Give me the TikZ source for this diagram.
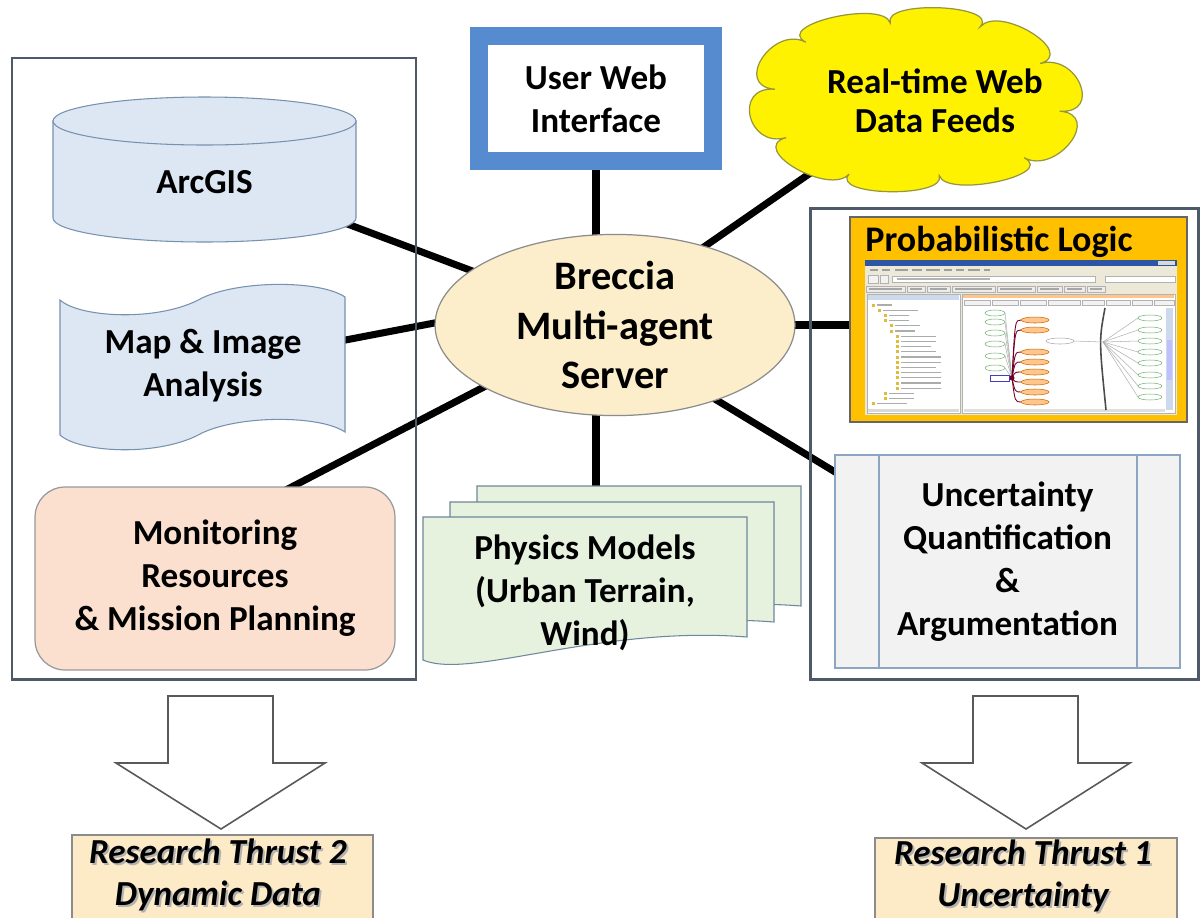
\documentclass[tikz,border=0pt]{standalone}
\usepackage{fontspec}
\setmainfont{Carlito}
\usetikzlibrary{shapes.geometric,calc}
\definecolor{framecol}{RGB}{78,90,104}
\definecolor{bluefill}{RGB}{220,231,243}
\definecolor{blueline}{RGB}{120,145,175}
\definecolor{peach}{RGB}{251,224,207}
\definecolor{greenfill}{RGB}{230,241,222}
\definecolor{greenline}{RGB}{110,135,155}
\definecolor{cream}{RGB}{252,238,202}
\definecolor{cloudline}{RGB}{150,150,60}
\definecolor{uwiblue}{RGB}{86,140,207}
\definecolor{probor}{RGB}{255,192,0}
\definecolor{uqfill}{RGB}{242,242,242}
\definecolor{uqline}{RGB}{140,165,195}
\definecolor{thrustfill}{RGB}{253,234,198}
\definecolor{winbg}{RGB}{236,233,216}
\definecolor{titleblue}{RGB}{45,85,165}
\definecolor{treeyel}{RGB}{220,190,60}
\definecolor{sbcol}{RGB}{205,218,238}
\begin{document}
\begin{tikzpicture}[x=0.02cm,y=-0.02cm,
  txt/.style={font=\fontsize{20}{24.4}\selectfont\bfseries, align=center, inner sep=0pt},
  thrusttxt/.style={font=\fontsize{20}{24}\selectfont\bfseries\itshape, align=center, inner sep=0pt},
  conn/.style={line width=4pt, black},
  frame/.style={draw=framecol, line width=1.7pt},
  bluebox/.style={fill=bluefill, draw=blueline, line width=0.6pt},
  docsty/.style={fill=greenfill, draw=greenline, line width=0.6pt},
  cloudsty/.style={fill=yellow, draw=cloudline, line width=0.7pt},
  bigarrow/.style={fill=white, draw=black!65, line width=0.9pt, line join=miter},
  thrustbox/.style={fill=thrustfill, draw=black!45, line width=0.7pt}]
\useasboundingbox (0,0) rectangle (1200,917);
\clip (0,0) rectangle (1200,917);
\fill[white] (0,0) rectangle (1200,917);

% ---------- connectors (behind everything) ----------
\coordinate (c1a) at (340,221.2); \coordinate (c1b) at (500,281.4);
\coordinate (c2a) at (335,342);   \coordinate (c2b) at (450,320);
\coordinate (c3a) at (282,492);   \coordinate (c3b) at (505,376);
\coordinate (c4a) at (596,160);   \coordinate (c4b) at (596,255);
\coordinate (c5a) at (832,158);   \coordinate (c5b) at (688,258);
\coordinate (c6a) at (785,325);   \coordinate (c6b) at (860,325);
\coordinate (c7a) at (700,390);   \coordinate (c7b) at (845,478);
\coordinate (c8a) at (596,400);   \coordinate (c8b) at (596,495);
\foreach \n in {1,...,8} \draw[conn] (c\n a) -- (c\n b);

% ---------- group frames ----------
\draw[frame] (12,58) rectangle (416,679);
\draw[frame] (810,208) rectangle (1198,679);

% ---------- ArcGIS cylinder ----------
\path[bluebox] (53,121) -- (53,218)
  .. controls (53,231.25) and (120.8,242) .. (204.5,242)
  .. controls (288.2,242) and (356,231.25) .. (356,218) -- (356,121) -- cycle;
\draw[bluebox] (204.5,121) ellipse [x radius=151.5, y radius=24];
\node[txt] (arcgis) at (204.5,182) {ArcGIS};

% ---------- Map & Image (punched tape) ----------
\path[bluebox] (60,300) .. controls (80,318) and (160,322) .. (202,298)
  .. controls (240,280) and (320,280) .. (345,297) -- (345,432)
  .. controls (320,415) and (240,415) .. (202,433)
  .. controls (160,457) and (80,453) .. (60,435) -- cycle;
\node[txt] (map) at (203,366) {Map \& Image\\Analysis};

% ---------- Monitoring ----------
\node[draw=black!40, fill=peach, line width=0.7pt, rounded corners=0.6cm,
      minimum width=7.2cm, minimum height=3.66cm, txt] (monitor) at (215,578.5)
      {Monitoring\\Resources\\\& Mission Planning};

% ---------- User Web Interface ----------
\node[draw=uwiblue, line width=10.2pt, fill=white, minimum width=4.68cm,
      minimum height=2.5cm, txt] (uwi) at (596,98.5) {User Web\\Interface};

% ---------- Cloud ----------
\coordinate (cc) at (915,100);
\foreach \i/\f in {0/1.0,1/1.04,2/0.96,3/1.03,4/1.0,5/0.97,6/1.04,7/0.98,8/1.02,9/0.97,10/1.0}
  \coordinate (cp\i) at ({915+146*\f*cos(\i*36+8)},{100+80*\f*sin(\i*36+8)});
\path[cloudsty] (cp0) \foreach \i [remember=\i as \j (initially 0)] in {1,...,10}
  { .. controls ($(cc)!1.3!(cp\j)$) and ($(cc)!1.3!(cp\i)$) .. (cp\i) } -- cycle;
\node[font=\fontsize{20}{22.5}\selectfont\bfseries, align=center, inner sep=0pt]
      (cloud) at (935,101) {Real-time Web\\Data Feeds};

% ---------- Server ----------
\node[ellipse, draw=black!45, fill=cream, line width=0.7pt, minimum width=7.2cm,
      minimum height=3.3cm, inner sep=0pt, align=center,
      font=\fontsize{23}{28.3}\selectfont\bfseries] (srv) at (615,325)
      {Breccia\\Multi-agent\\Server};

% ---------- Physics models (multi-document) ----------
\foreach \dx/\dy in {54/-31,27/-15,0/0}{
  \path[docsty, shift={(\dx,\dy)}] (423,517) -- (747,517) -- (747,637)
    .. controls (600,625) and (470,680) .. (423,660) -- cycle;
}
\node[txt] (physics) at (585,593) {Physics Models\\(Urban Terrain,\\Wind)};

% ---------- Probabilistic Logic panel ----------
\draw[fill=probor, draw=black!60, line width=0.6pt] (850,217) rectangle (1187,422);
\node[anchor=base west, font=\fontsize{20.5}{24}\selectfont\bfseries, inner sep=0pt]
      (prob) at (865,251) {Probabilistic Logic};
% screenshot
\fill[winbg] (865,260) rectangle (1177,415);
\fill[titleblue] (865,260) rectangle (1177,266);
\fill[white!70!gray] (1158,261) rectangle (1175,265);
\foreach \a/\b in {870/878,882/890,895/908,912/922,926/940,944/952,956/964,968/980,984/990}
  \fill[gray!75] (\a,268.5) rectangle (\b,270.5);
\draw[gray!60, fill=gray!10, line width=0.3pt] (868,275) rectangle (878,283);
\draw[gray!60, fill=gray!10, line width=0.3pt] (880,275) rectangle (888,283);
\draw[gray!60, fill=white, line width=0.3pt] (892,276) rectangle (1095,282);
\fill[gray!60] (897,278.3) rectangle (990,279.7);
\draw[gray!60, fill=white, line width=0.3pt] (1105,276) rectangle (1175,282);
\foreach \a/\b in {866/905,907/925,927/950,952/995,997/1035,1037/1062,1064/1085,1087/1105}{
  \draw[gray!60, fill=gray!15, line width=0.3pt] (\a,286) rectangle (\b,292);
  \fill[gray!70] (\a+3,288.4) rectangle (\b-3,289.6);
}
\draw[gray!60, fill=white, line width=0.3pt] (867,294) rectangle (960,413);
\fill[sbcol] (868,295) rectangle (959,300);
\foreach \k/\ind/\len in {0/872/15,1/878/35,2/884/20,3/884/20,4/890/25,5/890/20,6/896/35,
   7/896/35,8/896/30,9/896/35,10/896/40,11/896/40,12/896/35,13/896/40,14/896/40,
   15/896/40,16/896/40,17/884/25,18/884/25,19/872/30}{
  \fill[treeyel] (\ind,305+\k*5.2-1.5) rectangle +(3,3);
  \fill[gray!65] (\ind+5,305+\k*5.2-0.6) rectangle +(\len,1.2);
}
\fill[gray!30] (868,409) rectangle (959,412);
\draw[gray!60, fill=white, line width=0.3pt] (962,294) rectangle (1175,413);
\fill[orange!45] (963,295) rectangle (1174,298);
\foreach \a/\b in {964/990,992/1018,1020/1046,1048/1080,1082/1104,1106/1130,1132/1152,1154/1174}
  \draw[gray!60, fill=gray!10, line width=0.3pt] (\a,300) rectangle (\b,305);
\fill[sbcol] (1166,308) rectangle (1173,410);
\fill[blue!25] (1167,340) rectangle (1172,380);
\fill[gray!25] (964,409) rectangle (1165,412);
\draw[black!70, line width=0.9pt] (1105,308) .. controls (1099,340) .. (1106,410);
\foreach \y in {318,330,341,352,363,375,386,397}{
  \draw[gray!60, line width=0.3pt] (1103,342) -- (1138,\y);
  \draw[green!45!black!55, fill=white, line width=0.3pt] (1150,\y) ellipse [x radius=12, y radius=3];
}
\foreach \y in {313,322,333,344,356,368}{
  \draw[gray!60, line width=0.3pt] (1005,\y) -- (1012,378);
  \draw[green!45!black!55, fill=white, line width=0.3pt] (995,\y) ellipse [x radius=10, y radius=3];
}
\foreach \y in {320,330,352,362,372,382,392,402}{
  \draw[purple!60!black, line width=0.5pt] (1012,378) .. controls (1015,\y) .. (1021,\y);
  \draw[orange!80!black, fill=orange!45, line width=0.3pt] (1035,\y) ellipse [x radius=14, y radius=3];
}
\draw[gray!70, fill=white, line width=0.3pt] (1060,341) ellipse [x radius=14, y radius=3];
\draw[gray!60, line width=0.3pt] (1074,341) -- (1103,342);
\draw[blue!50!gray, line width=0.4pt] (990,375) rectangle (1009,381);
\fill[purple!60!black] (1012,378) circle [radius=2.5];

% ---------- Uncertainty (predefined process) ----------
\node[draw=uqline, fill=uqfill, line width=0.7pt, minimum width=6.9cm,
      minimum height=4.26cm, txt] (uq) at (1007.5,561.5)
      {Uncertainty\\Quantification\\\&\\Argumentation};
\draw[uqline, line width=0.7pt] (879,455) -- (879,668);
\draw[uqline, line width=0.7pt] (1137,455) -- (1137,668);

% ---------- big arrows ----------
\draw[bigarrow] (168,696) -- (273,696) -- (273,763) -- (325,763) -- (221,829)
  -- (116,763) -- (168,763) -- cycle;
\draw[bigarrow] (973,696) -- (1078,696) -- (1078,763) -- (1130,763) -- (1026,829)
  -- (922,763) -- (973,763) -- cycle;

% ---------- research thrust boxes ----------
\draw[thrustbox] (72,835) rectangle (373,930);
\draw[thrustbox] (875,838) rectangle (1177,930);
\node[thrusttxt, text=black!30] at (220,877) {Research Thrust 2\\Dynamic Data};
\node[thrusttxt] (rt2) at (218,875) {Research Thrust 2\\Dynamic Data};
\node[thrusttxt, text=black!30] at (1025,878) {Research Thrust 1\\Uncertainty};
\node[thrusttxt] (rt1) at (1023,876) {Research Thrust 1\\Uncertainty};
\end{tikzpicture}
\end{document}
